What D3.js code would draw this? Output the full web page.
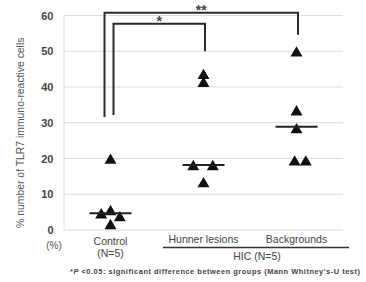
<!DOCTYPE html>
<html>
<head>
<meta charset="utf-8">
<script src="https://cdn.jsdelivr.net/npm/d3@7.9.0/dist/d3.min.js"></script>
<style>
  body { margin: 0; background: #fff; }
  svg { display: block; font-family: "Liberation Sans", Arial, sans-serif; }
</style>
</head>
<body>
<svg id="chart" width="366" height="282"></svg>
<script>
// groups on the x axis
const groups = ['Control', 'Hunner lesions', 'Backgrounds'];
// % TLR7 immuno-reactive cells per patient
const controlValues = [19.5, 4.2, 5.1, 3.4, 1.2];
const hunnerValues = [43.2, 41, 17.7, 17.7, 12.9];
const backgroundValues = [49.5, 33, 28, 19, 19];
// horizontal jitter of each point, as a share of the group band
const controlJitter = [0, -0.1, 0, 0.1, 0];
const hunnerJitter = [0, 0, -0.11, 0.1, 0];
const backgroundJitter = [0, 0, 0, -0.02, 0.1];
// median bars
const medians = [4.7, 18.2, 28.9];
const yTicks = [0, 10, 20, 30, 40, 50, 60];

const svg = d3.select('#chart');

const x = d3.scaleBand().domain(groups).range([64, 343]);
const y = d3.scaleLinear().domain([0, 60]).range([230, 15.5]);
const cx = g => x(g) + x.bandwidth() / 2;

// gridlines
svg.append('g')
  .selectAll('line')
  .data(yTicks.slice(1))
  .join('line')
  .attr('x1', 64).attr('x2', 343)
  .attr('y1', d => y(d)).attr('y2', d => y(d))
  .attr('stroke', '#dcdcdc').attr('stroke-width', 1);

// y axis
const yAxis = svg.append('g')
  .attr('transform', 'translate(63.5,0)')
  .call(d3.axisLeft(y).tickValues(yTicks).tickSize(0).tickPadding(10));
yAxis.select('.domain').attr('stroke', '#e0e0e0');
yAxis.selectAll('text')
  .attr('fill', '#444').attr('font-size', 11).attr('font-weight', 'bold');

// baseline
svg.append('line')
  .attr('x1', 64).attr('x2', 343)
  .attr('y1', y(0)).attr('y2', y(0))
  .attr('stroke', '#dcdcdc');

svg.append('text')
  .attr('transform', `translate(24,${(y(0) + y(60)) / 2 + 10}) rotate(-90)`)
  .attr('text-anchor', 'middle')
  .attr('font-size', 10.4).attr('fill', '#555')
  .text('% number of TLR7 immuno-reactive cells');

svg.append('text')
  .attr('x', 54).attr('y', 249).attr('text-anchor', 'middle')
  .attr('font-size', 10).attr('fill', '#555')
  .text('(%)');

// points
const series = [
  { group: groups[0], values: controlValues, jitter: controlJitter },
  { group: groups[1], values: hunnerValues, jitter: hunnerJitter },
  { group: groups[2], values: backgroundValues, jitter: backgroundJitter },
];
const points = series.flatMap(s => s.values.map((v, i) => ({ group: s.group, value: v, dx: s.jitter[i] })));

const tri = d3.symbol(d3.symbolTriangle, 62);
svg.append('g')
  .selectAll('path')
  .data(points)
  .join('path')
  .attr('d', tri)
  .attr('transform', d => `translate(${cx(d.group) + d.dx * x.step()},${y(d.value)})`)
  .attr('fill', '#111');

// medians
svg.append('g')
  .selectAll('line')
  .data(medians)
  .join('line')
  .attr('x1', (d, i) => cx(groups[i]) - 21)
  .attr('x2', (d, i) => cx(groups[i]) + 21)
  .attr('y1', d => y(d)).attr('y2', d => y(d))
  .attr('stroke', '#222').attr('stroke-width', 2);

// significance brackets
const brackets = [
  { from: 0, to: 2, top: 60.8, left: 31.6, right: 54.6, off: -6, label: '**' },
  { from: 0, to: 1, top: 57.7, left: 32.2, right: 50, off: 3, label: '*' },
];
brackets.forEach(b => {
  const x1 = cx(groups[b.from]) + b.off;
  const x2 = cx(groups[b.to]) + 1.5;
  svg.append('path')
    .attr('d', `M${x1},${y(b.left)}V${y(b.top)}H${x2}V${y(b.right)}`)
    .attr('fill', 'none').attr('stroke', '#2a2a2a').attr('stroke-width', 2);
  svg.append('text')
    .attr('x', (x1 + x2) / 2).attr('y', y(b.top) + 2)
    .attr('text-anchor', 'middle')
    .attr('font-size', 14).attr('font-weight', 'bold').attr('fill', '#444')
    .text(b.label);
});

// x labels
const labelSize = 10.5;
svg.append('text')
  .attr('x', cx(groups[0])).attr('y', 245).attr('text-anchor', 'middle')
  .attr('font-size', labelSize).attr('fill', '#444')
  .text('Control');
svg.append('text')
  .attr('x', cx(groups[0])).attr('y', 257).attr('text-anchor', 'middle')
  .attr('font-size', labelSize).attr('fill', '#444')
  .text('(N=5)');
svg.append('text')
  .attr('x', cx(groups[1])).attr('y', 243).attr('text-anchor', 'middle')
  .attr('font-size', labelSize).attr('fill', '#444')
  .text('Hunner lesions');
svg.append('text')
  .attr('x', cx(groups[2])).attr('y', 243).attr('text-anchor', 'middle')
  .attr('font-size', labelSize).attr('fill', '#444')
  .text('Backgrounds');

svg.append('line')
  .attr('x1', 163).attr('x2', 349)
  .attr('y1', 247.5).attr('y2', 247.5)
  .attr('stroke', '#333').attr('stroke-width', 1.5);
svg.append('text')
  .attr('x', 257).attr('y', 260).attr('text-anchor', 'middle')
  .attr('font-size', labelSize).attr('fill', '#444')
  .text('HIC (N=5)');

// footnote
const note = svg.append('text')
  .attr('x', 70).attr('y', 274)
  .attr('textLength', 290).attr('lengthAdjust', 'spacing')
  .attr('font-size', 7.4).attr('font-weight', 'bold').attr('fill', '#444');
note.append('tspan').text('*');
note.append('tspan').attr('font-style', 'italic').text('P');
note.append('tspan').text(' <0.05: significant difference between groups  (Mann Whitney\'s-U test)');
</script>
</body>
</html>
